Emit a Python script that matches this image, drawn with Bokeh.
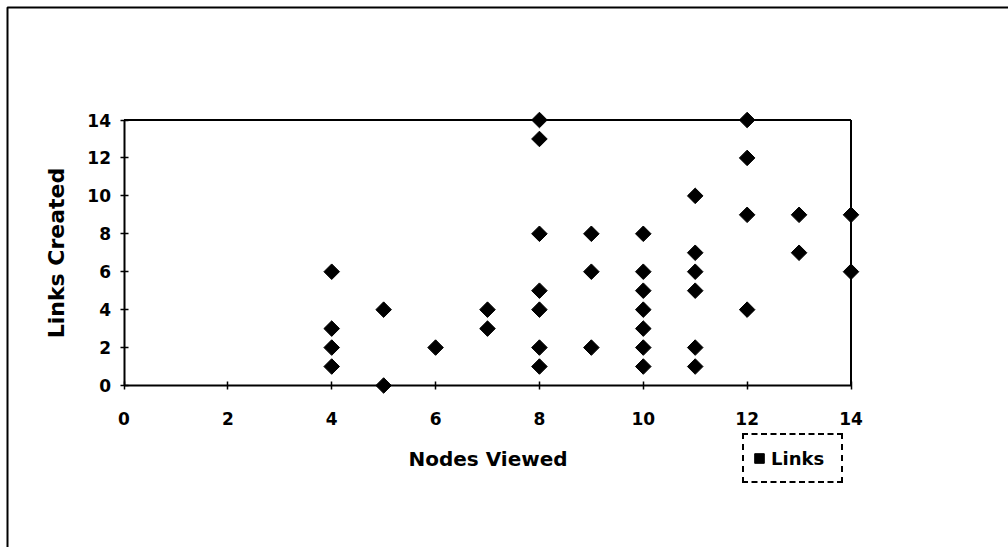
import math
from bokeh.plotting import figure
from bokeh.models import Range1d, FixedTicker, Legend, LegendItem, BoxAnnotation
from bokeh.embed import file_html
from bokeh.resources import INLINE

# ---- data ----
nodes_viewed = [4, 4, 4, 4,
                5, 5,
                6,
                7, 7,
                8, 8, 8, 8, 8, 8, 8,
                9, 9, 9,
                10, 10, 10, 10, 10, 10, 10,
                11, 11, 11, 11, 11, 11,
                12, 12, 12, 12,
                13, 13,
                14, 14]
links_created = [6, 3, 2, 1,
                 4, 0,
                 2,
                 4, 3,
                 14, 13, 8, 5, 4, 2, 1,
                 8, 6, 2,
                 8, 6, 5, 4, 3, 2, 1,
                 10, 7, 6, 5, 2, 1,
                 14, 12, 9, 4,
                 9, 7,
                 9, 6]
x_ticks = [0, 2, 4, 6, 8, 10, 12, 14]
y_ticks = [0, 2, 4, 6, 8, 10, 12, 14]
series_name = "Links"
x_title = "Nodes Viewed"
y_title = "Links Created"

FONT = "DejaVu Sans"
W, H = 1008, 547
# pixel placement of the plot area inside the page
PX0, PX1 = 123.5, 850.5     # x = 0 and x = 14
PY0, PY1 = 385.0, 119.5     # y = 0 and y = 14
sx = (PX1 - PX0) / (x_ticks[-1] - x_ticks[0])
sy = (PY0 - PY1) / (y_ticks[-1] - y_ticks[0])
x_range = Range1d(x_ticks[0] - PX0 / sx, x_ticks[0] + (W - PX0) / sx)
y_range = Range1d(y_ticks[0] - (H - PY0) / sy, y_ticks[0] + PY0 / sy)

p = figure(width=W, height=H, x_range=x_range, y_range=y_range,
           output_backend="svg", toolbar_location=None, min_border=0)
p.outline_line_color = None
p.grid.visible = False
p.background_fill_color = "white"
p.border_fill_color = "white"

for ax in p.xaxis:
    ax.fixed_location = 0
    ax.bounds = (x_ticks[0], x_ticks[-1])
    ax.ticker = FixedTicker(ticks=x_ticks)
    ax.axis_label = x_title
    ax.major_label_standoff = 22
    ax.axis_label_standoff = 19
    ax.axis_label_text_font_size = "20px"
for ax in p.yaxis:
    ax.fixed_location = 0
    ax.bounds = (y_ticks[0], y_ticks[-1])
    ax.ticker = FixedTicker(ticks=y_ticks)
    ax.axis_label = y_title
    ax.major_label_standoff = 9
    ax.axis_label_standoff = 16
    ax.axis_label_text_font_size = "22px"

for ax in p.axis:
    ax.axis_line_color = "black"
    ax.axis_line_width = 2
    ax.major_tick_in = 4
    ax.major_tick_out = 4
    ax.major_tick_line_color = "black"
    ax.major_tick_line_width = 1.5
    ax.minor_tick_line_color = None
    ax.major_label_text_font = FONT
    ax.major_label_text_font_style = "bold"
    ax.major_label_text_font_size = "17px"
    ax.major_label_text_color = "black"
    ax.axis_label_text_font = FONT
    ax.axis_label_text_font_style = "bold"
    ax.axis_label_text_color = "black"

# top and right frame lines of the plot area
p.segment(x0=[x_ticks[0], x_ticks[-1]], y0=[y_ticks[-1], y_ticks[0]],
          x1=[x_ticks[-1], x_ticks[-1]], y1=[y_ticks[-1], y_ticks[-1]],
          line_color="black", line_width=2)

r = p.scatter(nodes_viewed, links_created, marker="square", size=11,
              angle=math.pi / 4, fill_color="black", line_color="black")

legend = Legend(items=[LegendItem(label=series_name, renderers=[r])],
                location=(742, 64),
                padding=3, margin=0, spacing=0,
                glyph_width=24, glyph_height=24, label_standoff=0,
                label_width=67, label_height=40,
                label_text_font=FONT, label_text_font_style="bold",
                label_text_font_size="18px", label_text_color="black",
                border_line_color="black", border_line_width=2,
                border_line_alpha=1, border_line_dash="2 1",
                background_fill_color="white", background_fill_alpha=1)
p.add_layout(legend)

# page border (left and top edges)
page_border = BoxAnnotation(left=7, right=1200, top=7, bottom=800,
                            left_units="canvas", right_units="canvas",
                            top_units="canvas", bottom_units="canvas",
                            fill_alpha=0, line_color="black", line_alpha=1,
                            line_width=2)
p.add_layout(page_border)

open("out.html", "w").write(file_html(p, INLINE))
